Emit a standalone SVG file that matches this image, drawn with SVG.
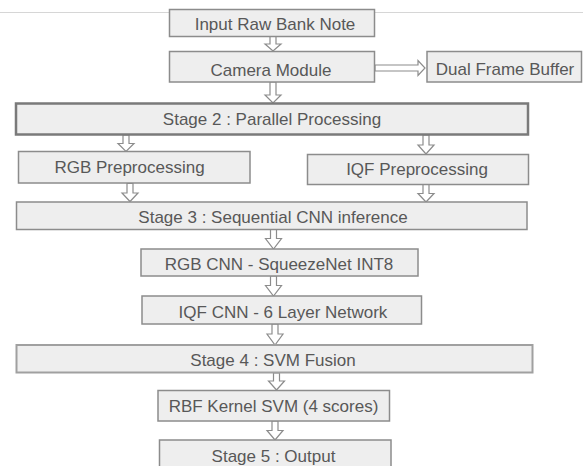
<svg xmlns="http://www.w3.org/2000/svg" width="583" height="466" viewBox="0 0 583 466">
<style>
.box{fill:#eeeeee;stroke:#8c8c8c;stroke-width:1.5}
.thick{fill:#eeeeee;stroke:#7a7a7a;stroke-width:2.5}
.soft{fill:#eeeeee;stroke:#a0a0a0;stroke-width:2}
.t{font-family:"Liberation Sans",Arial,sans-serif;font-size:17px;fill:#585858;text-anchor:middle}
.arr{fill:#ffffff;stroke:#8c8c8c;stroke-width:1.2;stroke-linejoin:miter}
</style>
<rect x="0" y="0" width="583" height="466" fill="#ffffff"/>
<line x1="0" y1="12.5" x2="583" y2="12.5" stroke="#d6d6d6" stroke-width="1.2"/>
<g id="connectors">
<polygon class="arr" points="270,36 276,36 276,44 281,44 273,51 265,44 270,44"/>
<polygon class="arr" points="270,82 276,82 276,95 281,95 273,103 265,95 270,95"/>
<polygon class="arr" points="375,65 418,65 418,60.5 425,68 418,75.5 418,71 375,71"/>
<polygon class="arr" points="123,135 129,135 129,143.5 134,143.5 126,151.5 118,143.5 123,143.5"/>
<polygon class="arr" points="423,135 429,135 429,145 434,145 426,154 418,145 423,145"/>
<polygon class="arr" points="127,183.5 133,183.5 133,193 138,193 130,201.5 122,193 127,193"/>
<polygon class="arr" points="423,184.5 429,184.5 429,193.5 434,193.5 426,202 418,193.5 423,193.5"/>
<polygon class="arr" points="270.5,229.5 276.5,229.5 276.5,238.5 281.5,238.5 273.5,249 265.5,238.5 270.5,238.5"/>
<polygon class="arr" points="270.5,276 276.5,276 276.5,285.5 281.5,285.5 273.5,296 265.5,285.5 270.5,285.5"/>
<polygon class="arr" points="272,324 278,324 278,334 283,334 275,345 267,334 272,334"/>
<polygon class="arr" points="273.5,373 279.5,373 279.5,381 284.5,381 276.5,390 268.5,381 273.5,381"/>
<polygon class="arr" points="272,421 278,421 278,430.5 283,430.5 275,440 267,430.5 272,430.5"/>
</g>
<g id="input"><rect class="box" x="169.5" y="9.5" width="205" height="27"/><text class="t" x="275" y="29.5">Input Raw Bank Note</text></g>
<g id="camera"><rect class="box" x="169.5" y="51.5" width="205" height="30.5"/><text class="t" x="271" y="75.5">Camera Module</text></g>
<g id="dualbuffer"><rect class="box" x="427" y="51.5" width="154.5" height="30.5"/><text class="t" x="505" y="75">Dual Frame Buffer</text></g>
<g id="stage2"><rect class="thick" x="16" y="103.5" width="512" height="31"/><text class="t" x="272" y="124.7">Stage 2 : Parallel Processing</text></g>
<g id="rgbpre"><rect class="box" x="18.5" y="151.5" width="231.5" height="31.5"/><text class="t" x="129.5" y="173">RGB Preprocessing</text></g>
<g id="iqfpre"><rect class="box" x="307.5" y="154.5" width="221" height="30"/><text class="t" x="417" y="175">IQF Preprocessing</text></g>
<g id="stage3"><rect class="box" x="16.5" y="202" width="510.5" height="27.5"/><text class="t" x="273" y="222.5">Stage 3 : Sequential CNN inference</text></g>
<g id="rgbcnn"><rect class="box" x="141" y="249" width="277" height="27"/><text class="t" x="279" y="270">RGB CNN - SqueezeNet INT8</text></g>
<g id="iqfcnn"><rect class="box" x="142" y="296" width="279.5" height="28"/><text class="t" x="283" y="317.5">IQF CNN - 6 Layer Network</text></g>
<g id="stage4"><rect class="soft" x="16.5" y="345" width="516" height="27.5"/><text class="t" x="273" y="365.5">Stage 4 : SVM Fusion</text></g>
<g id="rbf"><rect class="box" x="158" y="390.5" width="231.5" height="30.5"/><text class="t" x="273.5" y="411.5">RBF Kernel SVM (4 scores)</text></g>
<g id="stage5"><rect class="box" x="159.5" y="440" width="231.5" height="32"/><text class="t" x="273.5" y="461.5">Stage 5 : Output</text></g>
</svg>
